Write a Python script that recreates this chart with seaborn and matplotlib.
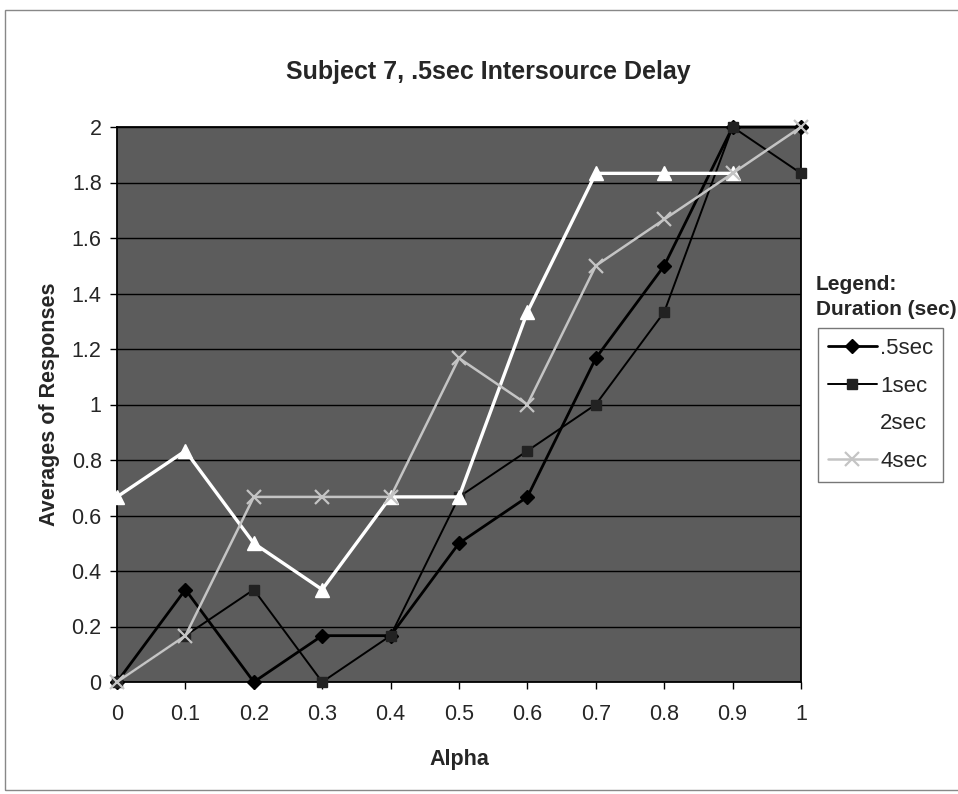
import numpy as np
import pandas as pd
import matplotlib
matplotlib.use("Agg")
import matplotlib.pyplot as plt
import seaborn as sns

sns.set_theme(style="white")
plt.rcParams["font.family"] = ["Liberation Sans", "DejaVu Sans"]

# Alpha values on the x axis
alpha = [0, 0.1, 0.2, 0.3, 0.4, 0.5, 0.6, 0.7, 0.8, 0.9, 1.0]

# Average responses per stimulus duration
dur_05 = [0, 0.333, 0, 0.167, 0.167, 0.5, 0.667, 1.167, 1.5, 2.0, 2.0]
dur_1 = [0, 0.167, 0.333, 0, 0.167, 0.667, 0.833, 1.0, 1.333, 2.0, 1.833]
dur_2 = [0.667, 0.833, 0.5, 0.333, 0.667, 0.667, 1.333, 1.833, 1.833, 1.833, np.nan]
dur_4 = [0, 0.167, 0.667, 0.667, 0.667, 1.167, 1.0, 1.5, 1.667, 1.833, 2.0]

series_names = [".5sec", "1sec", "2sec", "4sec"]
series_values = [dur_05, dur_1, dur_2, dur_4]

y_ticks = [0, 0.2, 0.4, 0.6, 0.8, 1.0, 1.2, 1.4, 1.6, 1.8, 2.0]
y_tick_labels = ["0", "0.2", "0.4", "0.6", "0.8", "1", "1.2", "1.4", "1.6", "1.8", "2"]
x_tick_labels = ["0", "0.1", "0.2", "0.3", "0.4", "0.5", "0.6", "0.7", "0.8", "0.9", "1"]

frames = []
for name, vals in zip(series_names, series_values):
    frames.append(pd.DataFrame({"Alpha": alpha, "Response": vals, "Duration": name}))
df = pd.concat(frames, ignore_index=True)

styles = {
    ".5sec": dict(color="black", marker="D", lw=2.0, ms=7, mec="black", mfc="black"),
    "1sec": dict(color="black", marker="s", lw=1.4, ms=7, mec="#222222", mfc="#222222"),
    "2sec": dict(color="white", marker="^", lw=2.4, ms=9.5, mec="white", mfc="white"),
    "4sec": dict(color="#c4c4c4", marker="x", lw=1.8, ms=10, mec="#c4c4c4", mew=1.6),
}

fig = plt.figure(figsize=(9.58, 7.94), dpi=100)
fig.patch.set_facecolor("white")
ax = fig.add_axes([117 / 958, 1 - 682 / 794, (801 - 117) / 958, (682 - 127) / 794])
ax.set_facecolor("#5c5c5c")

for name in series_names:
    sub = df[df["Duration"] == name]
    st = styles[name]
    sns.lineplot(
        data=sub, x="Alpha", y="Response", ax=ax,
        color=st["color"], marker=st["marker"], linewidth=st["lw"],
        markersize=st["ms"], markeredgecolor=st["mec"],
        markerfacecolor=st.get("mfc", st["color"]),
        markeredgewidth=st.get("mew", 1.0),
        label=name, legend=False, clip_on=False, zorder=3,
    )

ax.set_xlim(0, 1)
ax.set_ylim(0, 2)
ax.set_xticks(alpha)
ax.set_xticklabels(x_tick_labels)
ax.set_yticks(y_ticks)
ax.set_yticklabels(y_tick_labels)
ax.yaxis.grid(True, color="black", lw=1.0)
ax.xaxis.grid(False)
ax.set_axisbelow(True)
for sp in ax.spines.values():
    sp.set_color("black")
    sp.set_linewidth(1.3)
ax.tick_params(axis="both", direction="out", length=5, width=1, color="black",
               labelsize=15.5, bottom=True, left=True)
ax.tick_params(axis="x", pad=11)
ax.tick_params(axis="y", pad=6)

ax.set_xlabel("Alpha", fontsize=15.5, fontweight="bold", labelpad=17)
ax.set_ylabel("Averages of Responses", fontsize=15.5, fontweight="bold", labelpad=8)

fig.text(0.51, 1 - 72 / 794, "Subject 7, .5sec Intersource Delay",
         ha="center", va="center", fontsize=18, fontweight="bold")

fig.text(816 / 958, 1 - 297 / 794, "Legend:\nDuration (sec)", ha="left", va="center",
         fontsize=15, fontweight="bold", linespacing=1.4)

handles = ax.get_lines()[:4]
leg = fig.legend(handles, series_names, loc="upper left",
                 bbox_to_anchor=(818 / 958, 1 - 328 / 794), fontsize=16,
                 frameon=True, fancybox=False, handlelength=2.2, handletextpad=0.15,
                 borderpad=0.45, labelspacing=0.75, borderaxespad=0)
leg.get_frame().set_edgecolor("#555555")
leg.get_frame().set_linewidth(1.0)

# outer chart border
fig.add_artist(plt.Rectangle((5 / 958, 4 / 794), 1.2, 1 - 14 / 794,
                             transform=fig.transFigure, fill=False,
                             edgecolor="#888888", lw=1.0))

fig.savefig("out.png", dpi=100, facecolor="white")
